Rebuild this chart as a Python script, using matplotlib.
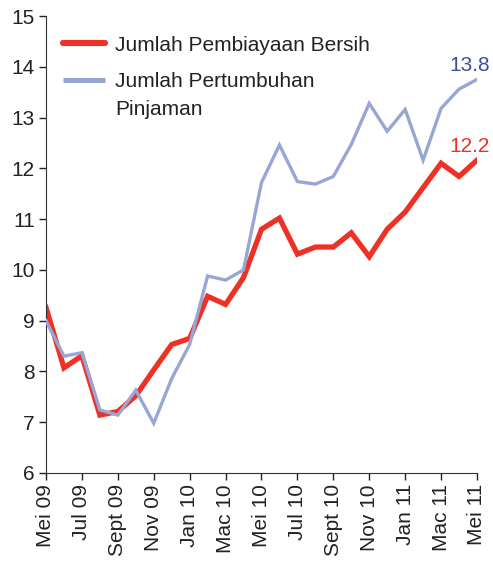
import matplotlib.pyplot as plt

plt.rcParams['font.family'] = ['Liberation Sans', 'DejaVu Sans']

months = ['Mei 09', 'Jun 09', 'Jul 09', 'Ogos 09', 'Sept 09', 'Okt 09', 'Nov 09',
          'Dis 09', 'Jan 10', 'Feb 10', 'Mac 10', 'Apr 10', 'Mei 10', 'Jun 10',
          'Jul 10', 'Ogos 10', 'Sept 10', 'Okt 10', 'Nov 10', 'Dis 10', 'Jan 11',
          'Feb 11', 'Mac 11', 'Apr 11', 'Mei 11']

pembiayaan = [9.26, 8.07, 8.31, 7.14, 7.21, 7.52, 8.03, 8.53, 8.65, 9.48, 9.32,
              9.85, 10.8, 11.02, 10.31, 10.45, 10.45, 10.73, 10.26, 10.8, 11.14,
              11.62, 12.1, 11.84, 12.16]
pinjaman = [9.0, 8.3, 8.37, 7.24, 7.14, 7.63, 6.98, 7.86, 8.53, 9.88, 9.8, 10.0,
            11.72, 12.46, 11.74, 11.69, 11.84, 12.47, 13.28, 12.73, 13.16, 12.16,
            13.18, 13.56, 13.75]

red = '#ee3124'
blue = '#98a6d4'
txt = '#222222'
x = list(range(len(months)))

fig = plt.figure(figsize=(4.93, 5.62), dpi=100)
ax = fig.add_axes([0.0933, 0.1584, 0.8742, 0.8131])

ax.plot(x, pembiayaan, color=red, lw=3.8, solid_joinstyle='miter', zorder=2)
ax.plot(x, pinjaman, color=blue, lw=2.4, solid_joinstyle='miter', zorder=3)

ax.annotate('13.8', (x[-1], pinjaman[-1]), xytext=(-5, 3), textcoords='offset points',
            ha='center', va='bottom', color='#3b4fa0', fontsize=15, annotation_clip=False)
ax.annotate('12.2', (x[-1], pembiayaan[-1]), xytext=(-5, 3), textcoords='offset points',
            ha='center', va='bottom', color=red, fontsize=15, annotation_clip=False)

# legend drawn by hand so the blue key sits on the first text line
ax.plot([0.039, 0.137], [0.941, 0.941], transform=ax.transAxes, color=red,
        lw=4.4, solid_capstyle='round', clip_on=False)
ax.plot([0.039, 0.137], [0.860, 0.860], transform=ax.transAxes, color=blue,
        lw=3.6, solid_capstyle='butt', clip_on=False)
ax.text(0.160, 0.923, 'Jumlah Pembiayaan Bersih', transform=ax.transAxes,
        fontsize=15, color=txt, va='baseline')
ax.text(0.160, 0.845, 'Jumlah Pertumbuhan', transform=ax.transAxes,
        fontsize=15, color=txt, va='baseline')
ax.text(0.160, 0.783, 'Pinjaman', transform=ax.transAxes,
        fontsize=15, color=txt, va='baseline')

ax.set_xlim(0, 24)
ax.set_ylim(6, 15)
ax.set_yticks(range(6, 16))
ax.set_xticks(x[::2])
ax.set_xticklabels(months[::2], rotation=90)
ax.tick_params(labelsize=15, colors=txt, length=5, width=1, direction='out', pad=3)
for s in ['top', 'right']:
    ax.spines[s].set_visible(False)
for s in ['left', 'bottom']:
    ax.spines[s].set_color('#333333')

plt.savefig('out.png', dpi=100)
